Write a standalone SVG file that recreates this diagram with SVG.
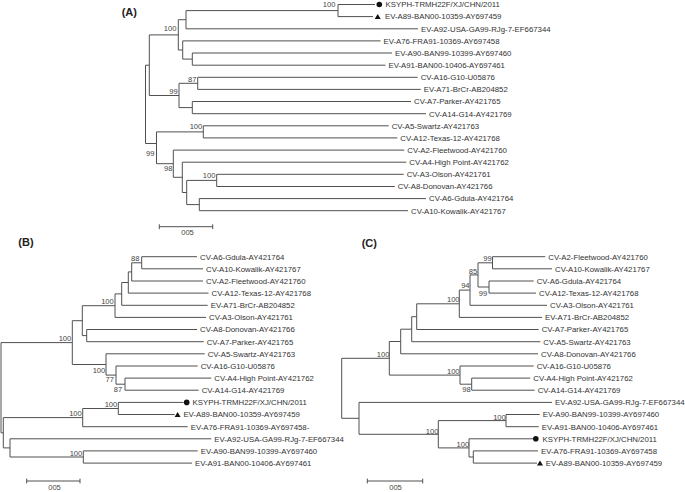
<svg xmlns="http://www.w3.org/2000/svg" width="685" height="492" viewBox="0 0 685 492">
<style>
.br{fill:none;stroke:#505050;stroke-width:1}
.t{font-family:"Liberation Sans",Arial,sans-serif;font-size:7.8px;fill:#333}
.b{font-family:"Liberation Sans",Arial,sans-serif;font-size:7.6px;fill:#444;text-anchor:end}
.p{font-family:"Liberation Sans",Arial,sans-serif;font-size:11px;font-weight:bold;fill:#222}
.s{font-family:"Liberation Sans",Arial,sans-serif;font-size:7.6px;fill:#444;text-anchor:middle}
.m{fill:#111}
</style>
<rect width="685" height="492" fill="#fff"/>
<defs>
<circle id="dot" r="2.8" class="m"/>
<path id="tri" d="M0,-2.6 L3,2.4 L-3,2.4 Z" class="m"/>
</defs>

<g id="panel-labels">
<text class="p" x="121.7" y="15.5">(A)</text>
<text class="p" x="18.3" y="246">(B)</text>
<text class="p" x="361.7" y="246.5">(C)</text>
</g>

<g id="connectors">
<path class="br" d="M338 4.5V16.6M186 10.6V28.8M192.3 53V65.2M182.7 40.9V59.1M178.3 19.7V50M197.7 77.3V89.4M192.3 101.5V113.7M179 83.3V107.6M149.3 34.9V95.5M145.5 65.2V143.5M203.3 125.8V137.9M156.5 131.9V163.7M173.3 150.1V177.3M182.3 162.2V192.5M186.7 180.4V204.6M216.7 174.3V186.5M199.3 198.6V210.7
M186 10.6H338M178.3 19.7H186M182.7 59.1H192.3M178.3 50H182.7M149.3 34.9H178.3M179 83.3H197.7M179 107.6H192.3M149.3 95.5H179M145.5 65.2H149.3M156.5 131.9H203.3M145.5 143.5H156.5M156.5 163.7H173.3M173.3 177.3H182.3M182.3 192.5H186.7M186.7 180.4H216.7M186.7 204.6H199.3
M338 4.5H375M338 16.6H373M186 28.8H418M182.7 40.9H380.5M192.3 53H392M192.3 65.2H385.5M197.7 77.3H417.7M197.7 89.4H420.7M192.3 101.5H411M192.3 113.7H426M203.3 125.8H388.7M203.3 137.9H397.3M173.3 150.1H404.3M182.3 162.2H406.3M216.7 174.3H403.7M216.7 186.5H394.7M199.3 198.6H426M199.3 210.7H408"/>
<path class="br" d="M141.7 256.7V268.8M131.7 262.8V281M128.3 271.9V293.1M121.7 282.5V305.3M115 293.9V317.4M86.7 329.5V341.7M82.3 305.7V335.6M125 378.1V390.2M116 366V384.2M106 353.8V375.1M72.3 320.7V364.5M118.3 402.4V414.5M82.7 408.5V426.7M83.3 450.9V463.1M10 438.8V457M3.3 417.6V447.9M1 342.6V432.8
M131.7 262.8H141.7M128.3 271.9H131.7M121.7 282.5H128.3M115 293.9H121.7M82.3 305.7H115M82.3 335.6H86.7M72.3 320.7H82.3M116 384.2H125M106 375.1H116M72.3 364.5H106M1 342.6H72.3M82.7 408.5H118.3M3.3 417.6H82.7M10 457H83.3M3.3 447.9H10M1 432.8H3.3
M141.7 256.7H197M141.7 268.8H203M131.7 281H203M128.3 293.1H208.5M121.7 305.3H207.7M115 317.4H206M86.7 329.5H197M86.7 341.7H203.7M106 353.8H204.7M116 366H197.7M125 378.1H211.3M125 390.2H198.7M118.3 402.4H183.6M118.3 414.5H174.6M82.7 426.7H187.7M10 438.8H211.3M83.3 450.9H197.7M83.3 463.1H192"/>
<path class="br" d="M492.5 256.7V268.8M489 281V293.1M478 262.8V287M470 274.9V305.3M459.3 290.1V317.4M416.7 303.8V329.5M411.7 316.7V341.7M400.7 329.2V353.8M471.7 378.1V390.2M460 366V384.2M389.3 341.5V375.1M506 414.5V426.7M473.3 450.9V463.1M469 438.8V457M438.3 420.6V447.9M359 402.4V434.3M341.7 358.3V418.3
M478 262.8H492.5M478 287H489M470 274.9H478M459.3 290.1H470M416.7 303.8H459.3M411.7 316.7H416.7M400.7 329.2H411.7M389.3 341.5H400.7M460 384.2H471.7M389.3 375.1H460M341.7 358.3H389.3M438.3 420.6H506M469 457H473.3M438.3 447.9H469M359 434.3H438.3M341.7 418.3H359
M492.5 256.7H545.3M492.5 268.8H552M489 281H533.7M489 293.1H536M470 305.3H547M459.3 317.4H542M416.7 329.5H538.7M411.7 341.7H540.3M400.7 353.8H538M460 366H533.7M471.7 378.1H530.3M471.7 390.2H534.7M359 402.4H552M506 414.5H539.7M506 426.7H538.7M469 438.8H533M473.3 450.9H538M473.3 463.1H537"/>
</g>

<g id="bootstrap">
<text class="b" x="335.5" y="7.3">100</text>
<text class="b" x="176.5" y="30.8">100</text>
<text class="b" x="196.5" y="81.8">87</text>
<text class="b" x="177.8" y="93.5">99</text>
<text class="b" x="202.3" y="128.5">100</text>
<text class="b" x="154.5" y="156.1">99</text>
<text class="b" x="172.5" y="171.1">98</text>
<text class="b" x="215.5" y="177.8">100</text>
<text class="b" x="139.5" y="261.1">88</text>
<text class="b" x="113.8" y="303.8">100</text>
<text class="b" x="71.3" y="341.1">100</text>
<text class="b" x="105.3" y="372.8">100</text>
<text class="b" x="114" y="382.1">77</text>
<text class="b" x="122.2" y="392.1">87</text>
<text class="b" x="117.3" y="407.1">100</text>
<text class="b" x="81.8" y="416.1">100</text>
<text class="b" x="82.3" y="456.1">100</text>
<text class="b" x="491.7" y="261.1">99</text>
<text class="b" x="487.3" y="295.5" fill="#888">99</text>
<text class="b" x="477.2" y="273.5">85</text>
<text class="b" x="469.6" y="288.3">94</text>
<text class="b" x="459.6" y="302.3">100</text>
<text class="b" x="389.5" y="356.8">100</text>
<text class="b" x="459.6" y="373.8">100</text>
<text class="b" x="470.8" y="392.1">98</text>
<text class="b" x="505.8" y="419.5">100</text>
<text class="b" x="438.5" y="433.8">100</text>
<text class="b" x="469.2" y="447.1">100</text>
</g>

<g id="scale-bars">
<path class="br" d="M159.3 226.7H212.7M159.3 224.3V229.1M212.7 224.3V229.1M26.7 481H80M26.7 478.6V483.4M80 478.6V483.4M367.3 481H422.7M367.3 478.6V483.4M422.7 478.6V483.4"/>
<text class="s" x="187.5" y="234.5">005</text>
<text class="s" x="54.5" y="489.5">005</text>
<text class="s" x="395.5" y="489.5">005</text>
</g>

<g id="tree-A">
<g id="A-KSYPH"><use href="#dot" x="379.3" y="4.5"/><text class="t" x="385.6" y="7.3">KSYPH-TRMH22F/XJ/CHN/2011</text></g>
<g id="A-EV-A89"><use href="#tri" x="377.7" y="16.6"/><text class="t" x="385" y="19.4">EV-A89-BAN00-10359-AY697459</text></g>
<g id="A-EV-A92"><text class="t" x="421" y="31.6">EV-A92-USA-GA99-RJg-7-EF667344</text></g>
<g id="A-EV-A76"><text class="t" x="383.5" y="43.7">EV-A76-FRA91-10369-AY697458</text></g>
<g id="A-EV-A90"><text class="t" x="395" y="55.8">EV-A90-BAN99-10399-AY697460</text></g>
<g id="A-EV-A91"><text class="t" x="388.5" y="68">EV-A91-BAN00-10406-AY697461</text></g>
<g id="A-CV-A16"><text class="t" x="420.7" y="80.1">CV-A16-G10-U05876</text></g>
<g id="A-EV-A71"><text class="t" x="423.7" y="92.2">EV-A71-BrCr-AB204852</text></g>
<g id="A-CV-A7"><text class="t" x="414" y="104.3">CV-A7-Parker-AY421765</text></g>
<g id="A-CV-A14"><text class="t" x="429" y="116.5">CV-A14-G14-AY421769</text></g>
<g id="A-CV-A5"><text class="t" x="391.7" y="128.6">CV-A5-Swartz-AY421763</text></g>
<g id="A-CV-A12"><text class="t" x="400.3" y="140.7">CV-A12-Texas-12-AY421768</text></g>
<g id="A-CV-A2"><text class="t" x="407.3" y="152.9">CV-A2-Fleetwood-AY421760</text></g>
<g id="A-CV-A4"><text class="t" x="409.3" y="165">CV-A4-High Point-AY421762</text></g>
<g id="A-CV-A3"><text class="t" x="406.7" y="177.1">CV-A3-Olson-AY421761</text></g>
<g id="A-CV-A8"><text class="t" x="397.7" y="189.3">CV-A8-Donovan-AY421766</text></g>
<g id="A-CV-A6"><text class="t" x="429" y="201.4">CV-A6-Gdula-AY421764</text></g>
<g id="A-CV-A10"><text class="t" x="411" y="213.5">CV-A10-Kowalik-AY421767</text></g>
</g>

<g id="tree-B">
<g id="B-CV-A6"><text class="t" x="200" y="259.5">CV-A6-Gdula-AY421764</text></g>
<g id="B-CV-A10"><text class="t" x="206" y="271.6">CV-A10-Kowalik-AY421767</text></g>
<g id="B-CV-A2"><text class="t" x="206" y="283.8">CV-A2-Fleetwood-AY421760</text></g>
<g id="B-CV-A12"><text class="t" x="211.5" y="295.9">CV-A12-Texas-12-AY421768</text></g>
<g id="B-EV-A71"><text class="t" x="210.7" y="308.1">EV-A71-BrCr-AB204852</text></g>
<g id="B-CV-A3"><text class="t" x="209" y="320.2">CV-A3-Olson-AY421761</text></g>
<g id="B-CV-A8"><text class="t" x="200" y="332.3">CV-A8-Donovan-AY421766</text></g>
<g id="B-CV-A7"><text class="t" x="206.7" y="344.5">CV-A7-Parker-AY421765</text></g>
<g id="B-CV-A5"><text class="t" x="207.7" y="356.6">CV-A5-Swartz-AY421763</text></g>
<g id="B-CV-A16"><text class="t" x="200.7" y="368.8">CV-A16-G10-U05876</text></g>
<g id="B-CV-A4"><text class="t" x="214.3" y="380.9">CV-A4-High Point-AY421762</text></g>
<g id="B-CV-A14"><text class="t" x="201.7" y="393">CV-A14-G14-AY421769</text></g>
<g id="B-KSYPH"><use href="#dot" x="186.7" y="402.4"/><text class="t" x="192.6" y="405.2">KSYPH-TRMH22F/XJ/CHN/2011</text></g>
<g id="B-EV-A89"><use href="#tri" x="177.6" y="414.5"/><text class="t" x="183.4" y="417.3">EV-A89-BAN00-10359-AY697459</text></g>
<g id="B-EV-A76"><text class="t" x="190.7" y="429.5">EV-A76-FRA91-10369-AY697458-</text></g>
<g id="B-EV-A92"><text class="t" x="214.3" y="441.6">EV-A92-USA-GA99-RJg-7-EF667344</text></g>
<g id="B-EV-A90"><text class="t" x="200.7" y="453.7">EV-A90-BAN99-10399-AY697460</text></g>
<g id="B-EV-A91"><text class="t" x="195" y="465.9">EV-A91-BAN00-10406-AY697461</text></g>
</g>

<g id="tree-C">
<g id="C-CV-A2"><text class="t" x="548.3" y="259.5">CV-A2-Fleetwood-AY421760</text></g>
<g id="C-CV-A10"><text class="t" x="555" y="271.6">CV-A10-Kowalik-AY421767</text></g>
<g id="C-CV-A6"><text class="t" x="536.7" y="283.8">CV-A6-Gdula-AY421764</text></g>
<g id="C-CV-A12"><text class="t" x="539" y="295.9">CV-A12-Texas-12-AY421768</text></g>
<g id="C-CV-A3"><text class="t" x="550" y="308.1">CV-A3-Olson-AY421761</text></g>
<g id="C-EV-A71"><text class="t" x="545" y="320.2">EV-A71-BrCr-AB204852</text></g>
<g id="C-CV-A7"><text class="t" x="541.7" y="332.3">CV-A7-Parker-AY421765</text></g>
<g id="C-CV-A5"><text class="t" x="543.3" y="344.5">CV-A5-Swartz-AY421763</text></g>
<g id="C-CV-A8"><text class="t" x="541" y="356.6">CV-A8-Donovan-AY421766</text></g>
<g id="C-CV-A16"><text class="t" x="536.7" y="368.8">CV-A16-G10-U05876</text></g>
<g id="C-CV-A4"><text class="t" x="533.3" y="380.9">CV-A4-High Point-AY421762</text></g>
<g id="C-CV-A14"><text class="t" x="537.7" y="393">CV-A14-G14-AY421769</text></g>
<g id="C-EV-A92"><text class="t" x="555" y="405.2">EV-A92-USA-GA99-RJg-7-EF667344</text></g>
<g id="C-EV-A90"><text class="t" x="542.7" y="417.3">EV-A90-BAN99-10399-AY697460</text></g>
<g id="C-EV-A91"><text class="t" x="541.7" y="429.5">EV-A91-BAN00-10406-AY697461</text></g>
<g id="C-KSYPH"><use href="#dot" x="535.8" y="438.8"/><text class="t" x="542.6" y="441.6">KSYPH-TRMH22F/XJ/CHN/2011</text></g>
<g id="C-EV-A76"><text class="t" x="541" y="453.7">EV-A76-FRA91-10369-AY697458</text></g>
<g id="C-EV-A89"><use href="#tri" x="540" y="463.1"/><text class="t" x="545.7" y="465.9">EV-A89-BAN00-10359-AY697459</text></g>
</g>
</svg>
